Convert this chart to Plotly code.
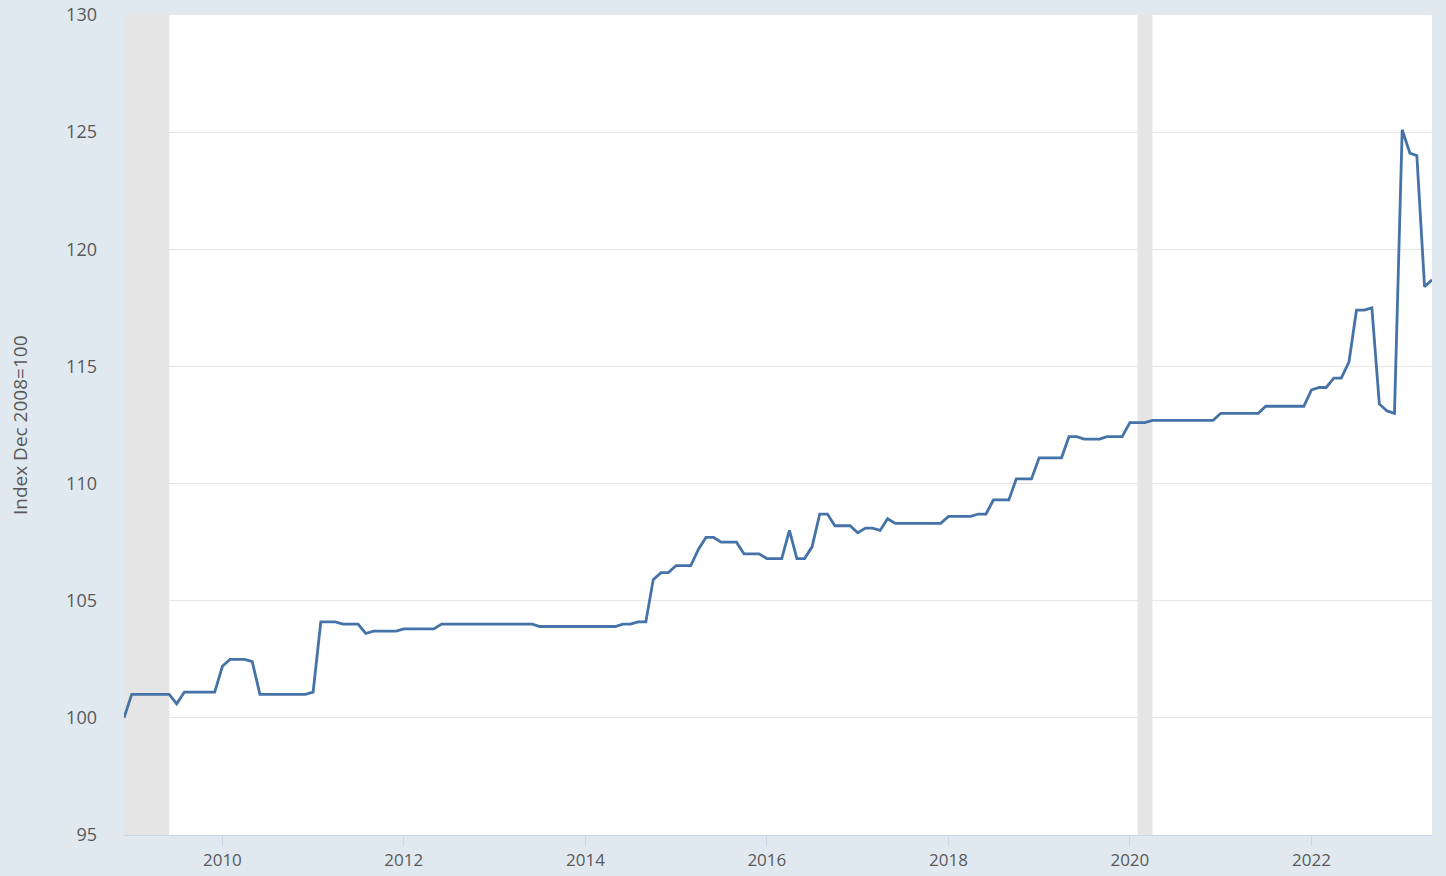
import pandas as pd
import plotly.graph_objects as go

# monthly index, Dec 2008 = 100
start_month = "2008-12-01"
index_values = [
    100.0,
    # 2009
    101.0, 101.0, 101.0, 101.0, 101.0, 101.0, 100.6, 101.1, 101.1, 101.1, 101.1, 101.1,
    # 2010
    102.2, 102.5, 102.5, 102.5, 102.4, 101.0, 101.0, 101.0, 101.0, 101.0, 101.0, 101.0,
    # 2011
    101.1, 104.1, 104.1, 104.1, 104.0, 104.0, 104.0, 103.6, 103.7, 103.7, 103.7, 103.7,
    # 2012
    103.8, 103.8, 103.8, 103.8, 103.8, 104.0, 104.0, 104.0, 104.0, 104.0, 104.0, 104.0,
    # 2013
    104.0, 104.0, 104.0, 104.0, 104.0, 104.0, 103.9, 103.9, 103.9, 103.9, 103.9, 103.9,
    # 2014
    103.9, 103.9, 103.9, 103.9, 103.9, 104.0, 104.0, 104.1, 104.1, 105.9, 106.2, 106.2,
    # 2015
    106.5, 106.5, 106.5, 107.2, 107.7, 107.7, 107.5, 107.5, 107.5, 107.0, 107.0, 107.0,
    # 2016
    106.8, 106.8, 106.8, 108.0, 106.8, 106.8, 107.3, 108.7, 108.7, 108.2, 108.2, 108.2,
    # 2017
    107.9, 108.1, 108.1, 108.0, 108.5, 108.3, 108.3, 108.3, 108.3, 108.3, 108.3, 108.3,
    # 2018
    108.6, 108.6, 108.6, 108.6, 108.7, 108.7, 109.3, 109.3, 109.3, 110.2, 110.2, 110.2,
    # 2019
    111.1, 111.1, 111.1, 111.1, 112.0, 112.0, 111.9, 111.9, 111.9, 112.0, 112.0, 112.0,
    # 2020
    112.6, 112.6, 112.6, 112.7, 112.7, 112.7, 112.7, 112.7, 112.7, 112.7, 112.7, 112.7,
    # 2021
    113.0, 113.0, 113.0, 113.0, 113.0, 113.0, 113.3, 113.3, 113.3, 113.3, 113.3, 113.3,
    # 2022
    114.0, 114.1, 114.1, 114.5, 114.5, 115.2, 117.4, 117.4, 117.5, 113.4, 113.1, 113.0,
    # 2023
    125.1, 124.1, 124.0, 118.4, 118.7,
]
dates = pd.date_range(start_month, periods=len(index_values), freq="MS")

recession_starts = ["2008-12-01", "2020-02-01"]
recession_ends = ["2009-06-01", "2020-04-01"]

tick_years = ["2010", "2012", "2014", "2016", "2018", "2020", "2022"]
y_ticks = [95, 100, 105, 110, 115, 120, 125, 130]

label_color = "#595959"
font_family = "Open Sans, sans-serif"

fig = go.Figure()
fig.add_trace(
    go.Scatter(
        x=dates,
        y=index_values,
        mode="lines",
        line=dict(color="#4572a7", width=2.8),
        hoverinfo="x+y",
    )
)

for s, e in zip(recession_starts, recession_ends):
    fig.add_vrect(x0=s, x1=e, fillcolor="#e5e5e5", line_width=0, layer="below")

fig.update_layout(
    width=1446,
    height=876,
    paper_bgcolor="#e1e9f0",
    plot_bgcolor="#ffffff",
    margin=dict(l=124, r=14, t=15, b=41),
    showlegend=False,
    font=dict(family=font_family, size=17, color=label_color),
    annotations=[
        dict(
            text="Index Dec 2008=100",
            xref="paper",
            yref="paper",
            x=-0.0795,
            xanchor="center",
            y=0.5,
            textangle=-90,
            showarrow=False,
            font=dict(size=19, color=label_color),
        )
    ],
)
fig.update_xaxes(
    range=[dates[0], dates[-1]],
    automargin=False,
    tickmode="array",
    tickvals=[f"{y}-01-01" for y in tick_years],
    ticktext=tick_years,
    showgrid=False,
    zeroline=False,
    showline=True,
    linecolor="#ccd6eb",
    linewidth=1,
    ticks="outside",
    ticklen=10,
    tickcolor="#ccd6eb",
    tickfont=dict(size=17, color=label_color),
)
fig.update_yaxes(
    range=[95, 130],
    automargin=False,
    tickvals=y_ticks,
    showgrid=True,
    gridcolor="#e6e6e6",
    gridwidth=1,
    zeroline=False,
    ticks="",
    ticklabelstandoff=26,
    tickfont=dict(size=18, color=label_color),
)

fig.write_html(
    "out.html",
    config={"displayModeBar": False},
    post_script="document.body.style.margin='0';",
)
